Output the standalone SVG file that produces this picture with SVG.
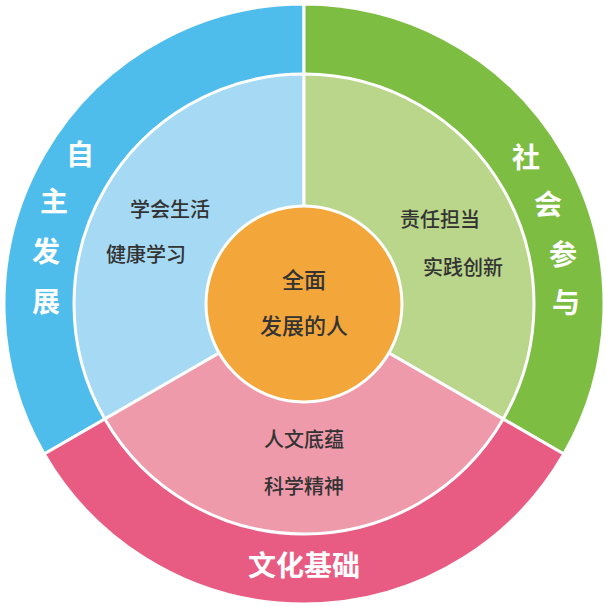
<svg xmlns="http://www.w3.org/2000/svg" width="606" height="606" viewBox="0 0 606 606">
<style>
.s{stroke:#fff;stroke-width:3}
.o{font-family:"Noto Sans CJK SC",sans-serif;font-weight:bold;font-size:28px;fill:#fff;text-anchor:middle}
.i{font-family:"Noto Sans CJK SC",sans-serif;font-weight:500;font-size:20px;fill:#333;text-anchor:middle}
.c{font-size:22px}
</style>
<rect width="606" height="606" fill="#fff"/>
<g id="outer-blue"><path class="s" d="M304,304 L304,4 A300,300 0 0 0 44.2,454 Z" fill="#4ebdec"/>
<text class="o" x="80" y="165">自</text><text class="o" x="54" y="212">主</text><text class="o" x="46" y="262">发</text><text class="o" x="46" y="312">展</text></g>
<g id="outer-green"><path class="s" d="M304,304 L304,4 A300,300 0 0 1 563.8,454 Z" fill="#7cbd42"/>
<text class="o" x="526" y="168">社</text><text class="o" x="548" y="215">会</text><text class="o" x="563" y="265">参</text><text class="o" x="566" y="313">与</text></g>
<g id="outer-pink"><path class="s" d="M304,304 L44.2,454 A300,300 0 0 0 563.8,454 Z" fill="#e85c83"/>
<text class="o" x="304" y="576">文化基础</text></g>
<g id="inner-blue"><path class="s" d="M304,304 L304,74 A230,230 0 0 0 104.8,419 Z" fill="#a6d9f4"/>
<text class="i" x="170" y="217">学会生活</text><text class="i" x="146" y="262">健康学习</text></g>
<g id="inner-green"><path class="s" d="M304,304 L304,74 A230,230 0 0 1 503.2,419 Z" fill="#b9d68a"/>
<text class="i" x="440" y="227">责任担当</text><text class="i" x="463" y="275">实践创新</text></g>
<g id="inner-pink"><path class="s" d="M304,304 L104.8,419 A230,230 0 0 0 503.2,419 Z" fill="#ef9aab"/>
<text class="i" x="304" y="447">人文底蕴</text><text class="i" x="304" y="494">科学精神</text></g>
<g id="center"><circle class="s" cx="304" cy="304" r="98" fill="#f3a73b"/>
<text class="i c" x="304" y="288">全面</text><text class="i c" x="304" y="334">发展的人</text></g>
</svg>
